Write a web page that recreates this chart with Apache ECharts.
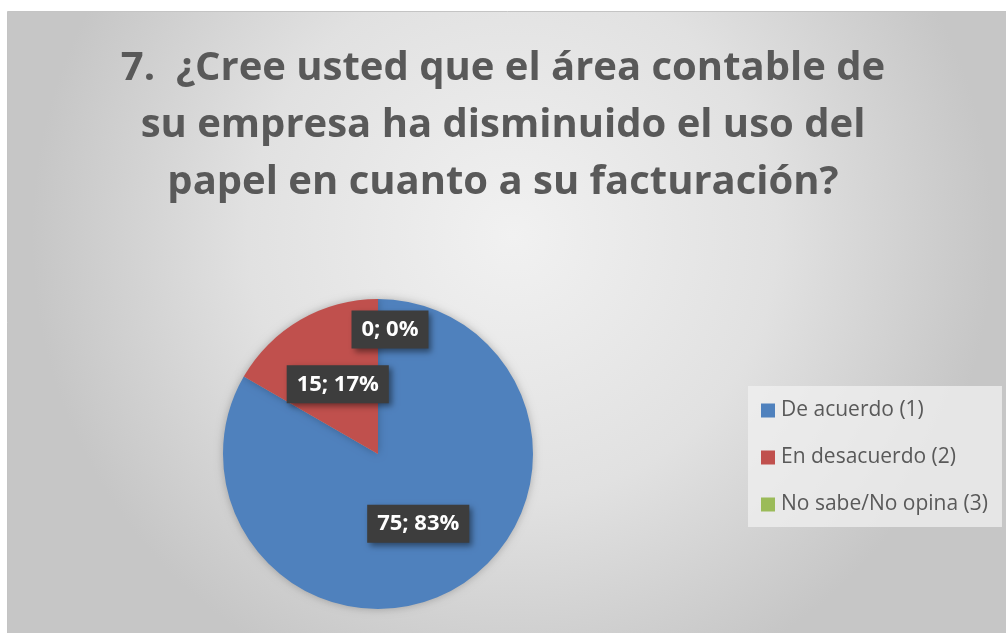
<!DOCTYPE html>
<html><head><meta charset="utf-8">
<script src="https://cdn.jsdelivr.net/npm/echarts@6/dist/echarts.min.js"></script>
<style>html,body{margin:0;padding:0;background:#fff}#c{width:1006px;height:633px}</style>
</head><body><div id="c"></div>
<script>
const titleText = '7.  ¿Cree usted que el área contable de\nsu empresa ha disminuido el uso del\npapel en cuanto a su facturación?';
const categories = ['De acuerdo (1)', 'En desacuerdo (2)', 'No sabe/No opina (3)'];
const values = [75, 15, 0];
const percents = ['83%', '17%', '0%'];
const colors = ['#4f81bd', '#c0504d', '#9bbb59'];

const chart = echarts.init(document.getElementById('c'), null, {renderer: 'canvas'});
const FONT = 'Open Sans';
const data = categories.map((n, i) => {
  const d = {name: n, value: values[i], itemStyle: {color: colors[i]}};
  if (i === 2) d.label = {offset: [12, -44]};
  return d;
});
chart.setOption({
  backgroundColor: '#ffffff',
  animation: false,
  graphic: [{
    type: 'rect', z: -10, silent: true,
    shape: {x: 7.5, y: 11.5, width: 1010, height: 640},
    style: {
      fill: new echarts.graphic.RadialGradient(0.5, 0.35, 0.75, [
        {offset: 0, color: '#f1f1f1'},
        {offset: 0.55, color: '#e1e1e1'},
        {offset: 1, color: '#c6c6c6'}
      ]),
      stroke: '#c4c4c4', lineWidth: 1
    }
  }],
  title: {
    text: titleText,
    left: 'center', top: 35,
    textStyle: {fontFamily: FONT, fontWeight: 'bold', fontSize: 40, color: '#595959', lineHeight: 57}
  },
  legend: {
    orient: 'vertical',
    left: 748, top: 386,
    backgroundColor: 'rgba(240,240,240,0.75)',
    padding: [14, 14, 12, 13],
    itemGap: 26,
    itemWidth: 14, itemHeight: 14,
    icon: 'rect',
    data: categories,
    textStyle: {fontFamily: FONT, fontSize: 21, color: '#595959', padding: [0, 0, 0, 1]}
  },
  series: [{
    type: 'pie',
    center: [378, 454],
    radius: 155,
    startAngle: 90,
    clockwise: true,
    stillShowZeroSum: true,
    data: data,
    itemStyle: {shadowBlur: 8, shadowColor: 'rgba(0,0,0,0.25)'},
    emphasis: {disabled: true},
    labelLine: {show: false},
    label: {
      show: true,
      position: 'inside',
      formatter: p => p.value + '; ' + percents[p.dataIndex],
      fontFamily: FONT, fontWeight: 'bold', fontSize: 22, color: '#ffffff',
      backgroundColor: '#3d3d3d',
      padding: [9, 10, 7, 10],
      shadowBlur: 6, shadowColor: 'rgba(0,0,0,0.45)', shadowOffsetX: 3, shadowOffsetY: 3
    }
  }]
});
</script></body></html>
